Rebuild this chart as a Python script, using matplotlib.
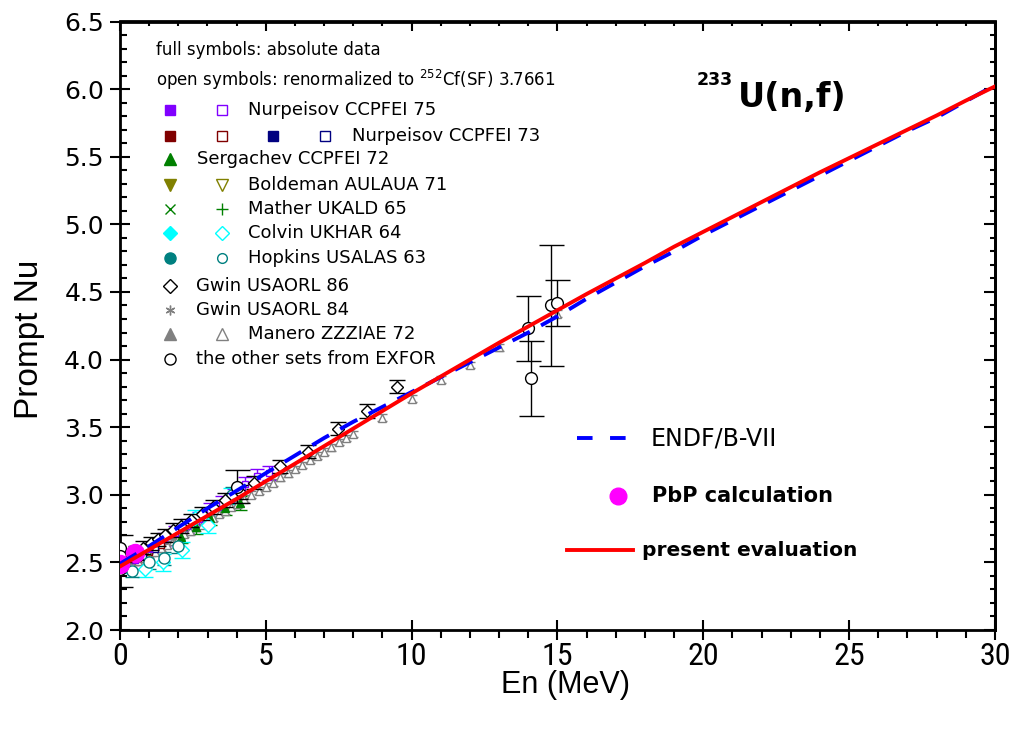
import matplotlib
matplotlib.use("Agg")
import matplotlib.pyplot as plt
from matplotlib.lines import Line2D
from matplotlib.ticker import MultipleLocator

# ---------------- evaluated curves ----------------
energy_grid = [0, 1, 2, 3, 4, 5, 6, 7, 8, 9, 10, 11, 12, 13, 14, 15,
               16, 17, 18, 19, 20, 21, 22, 23, 24, 25, 26, 27, 28, 29, 30]
nu_present = [2.47, 2.595, 2.72, 2.845, 2.97, 3.10, 3.23, 3.36, 3.49, 3.62,
              3.75, 3.875, 4.00, 4.125, 4.245, 4.365, 4.485, 4.60, 4.715,
              4.835, 4.945, 5.055, 5.165, 5.275, 5.385, 5.49, 5.595, 5.70,
              5.805, 5.915, 6.02]
nu_endf = [2.49, 2.62, 2.76, 2.90, 3.03, 3.16, 3.29, 3.42, 3.54, 3.65,
           3.76, 3.87, 3.98, 4.09, 4.20, 4.32, 4.45, 4.57, 4.69, 4.80,
           4.92, 5.03, 5.14, 5.25, 5.36, 5.47, 5.58, 5.69, 5.79, 5.91, 6.03]

pbp_e = [0.0, 0.5]
pbp_nu = [2.49, 2.57]

# ---------------- experimental sets ----------------
manero_e = [0.2, 0.4, 0.6, 0.8, 1.0, 1.2, 1.4, 1.6, 1.8, 2.0, 2.2, 2.4, 2.6,
            2.8, 3.0, 3.2, 3.4, 3.6, 3.8, 4.0, 4.25, 4.5, 4.75, 5.0, 5.25,
            5.5, 5.75, 6.0, 6.25, 6.5, 6.75, 7.0, 7.25, 7.5, 7.75, 8.0,
            9.0, 10.0, 11.0, 12.0, 13.0, 14.0, 15.0]
manero_nu = [2.46, 2.48, 2.51, 2.53, 2.56, 2.58, 2.61, 2.63, 2.66, 2.68,
             2.71, 2.73, 2.76, 2.78, 2.81, 2.83, 2.86, 2.88, 2.91, 2.93,
             2.97, 3.00, 3.03, 3.06, 3.09, 3.13, 3.16, 3.19, 3.22, 3.26,
             3.29, 3.32, 3.35, 3.39, 3.42, 3.45, 3.57, 3.71, 3.85, 3.96,
             4.09, 4.23, 4.34]
manero_err = [0.025] * len(manero_e)

gwin86_e = [0.55, 0.8, 1.05, 1.3, 1.55, 1.8, 2.1, 2.45, 2.8, 3.2, 3.6, 4.1,
            4.6, 5.5, 6.45, 7.47, 8.47, 9.5]
gwin86_nu = [2.57, 2.61, 2.64, 2.67, 2.70, 2.74, 2.77, 2.81, 2.86, 2.91,
             2.96, 3.02, 3.09, 3.21, 3.32, 3.49, 3.62, 3.80]
gwin86_err = [0.05] * len(gwin86_e)

gwin84_e = [0.1, 0.3, 0.5, 0.7, 0.9, 1.2, 1.5, 1.8]
gwin84_nu = [2.47, 2.50, 2.53, 2.55, 2.58, 2.62, 2.65, 2.69]
gwin84_err = [0.03] * len(gwin84_e)

hopkins_e = [0.4, 1.0, 1.5, 2.0, 3.84]
hopkins_nu = [2.44, 2.50, 2.53, 2.62, 3.00]
hopkins_err = [0.05, 0.05, 0.05, 0.05, 0.06]
hopkins_abs_e = [0.08]
hopkins_abs_nu = [2.47]

colvin_e = [0.86, 1.47, 2.12, 2.57, 3.0, 3.8]
colvin_nu = [2.45, 2.50, 2.59, 2.83, 2.78, 2.99]
colvin_err = [0.06, 0.06, 0.06, 0.06, 0.06, 0.06]
colvin_abs_e = [0.05]
colvin_abs_nu = [2.46]

sergachev_e = [2.1, 2.6, 3.1, 3.6, 4.1]
sergachev_nu = [2.69, 2.76, 2.83, 2.90, 2.94]
sergachev_err = [0.05] * len(sergachev_e)

nurp75_e = [1.5, 1.9, 2.3, 2.7, 3.1, 3.5, 3.9, 4.3, 4.7, 5.1]
nurp75_nu = [2.67, 2.72, 2.77, 2.82, 2.89, 2.94, 2.99, 3.08, 3.14, 3.16]
nurp75_err = [0.05] * len(nurp75_e)
nurp75_abs_e = [0.5, 1.0]
nurp75_abs_nu = [2.52, 2.60]

nurp73_red_e = [0.6, 1.0, 1.4]
nurp73_red_nu = [2.53, 2.58, 2.63]
nurp73_navy_e = [0.8, 1.2]
nurp73_navy_nu = [2.55, 2.60]

boldeman_e = [0.15, 0.5, 1.0]
boldeman_nu = [2.48, 2.52, 2.58]

mather_e = [0.04, 0.25]
mather_nu = [2.47, 2.50]

other_e = [0.0, 0.0, 0.0, 4.0, 14.0, 14.1, 14.78, 14.98]
other_nu = [2.61, 2.55, 2.45, 3.06, 4.23, 3.86, 4.40, 4.42]
other_err = [0.09, 0.05, 0.13, 0.12, 0.24, 0.28, 0.45, 0.17]

x_ticks = [0, 5, 10, 15, 20, 25, 30]
x_tick_labels = ["0", "5", "10", "15", "20", "25", "30"]
y_ticks = [2.0, 2.5, 3.0, 3.5, 4.0, 4.5, 5.0, 5.5, 6.0, 6.5]
y_tick_labels = ["2.0", "2.5", "3.0", "3.5", "4.0", "4.5", "5.0", "5.5",
                 "6.0", "6.5"]

# colours
C_NURP75 = "#8000ff"
C_DRED = "#800000"
C_NAVY = "#000080"
C_GREEN = "#008000"
C_OLIVE = "#808000"
C_CYAN = "#00ffff"
C_TEAL = "#008080"
C_GRAY = "#808080"

NARROW = ["Roboto Condensed", "Liberation Sans Narrow", "Liberation Sans"]

W, H = 1015, 729
fig = plt.figure(figsize=(W / 100, H / 100), dpi=100)
ax = fig.add_axes([120 / W, 99 / H, 875 / W, 608.5 / H])


def fx(px):
    return px / W


def fy(py):
    return 1 - py / H


def eb(x, y, err, marker, color, filled=False, ms=6, cap=3.5, z=3):
    ax.errorbar(x, y, yerr=err, fmt="", marker=marker, ls="none", ms=ms,
                mec=color, mfc=color if filled else "white", mew=1.0,
                ecolor=color, elinewidth=1.0, capsize=cap, capthick=1.0,
                zorder=z)


# experimental points
eb(manero_e, manero_nu, manero_err, "^", C_GRAY, ms=6, cap=3.5, z=3)
eb(gwin84_e, gwin84_nu, gwin84_err, (6, 2, 0), C_GRAY, ms=6, cap=3, z=3)
eb(nurp73_red_e, nurp73_red_nu, [0.04] * 3, "s", C_DRED, ms=5, cap=3, z=3)
eb(nurp73_navy_e, nurp73_navy_nu, [0.04] * 2, "s", C_NAVY, ms=5, cap=3, z=3)
eb(boldeman_e, boldeman_nu, [0.04] * 3, "v", C_OLIVE, ms=6, cap=3, z=3)
eb(mather_e, mather_nu, [0.04] * 2, "+", C_GREEN, ms=6, cap=3, z=3)
eb(nurp75_e, nurp75_nu, nurp75_err, "s", C_NURP75, ms=5, cap=5, z=3)
eb(nurp75_abs_e, nurp75_abs_nu, [0.04] * 2, "s", C_NURP75, filled=True,
   ms=5, cap=4, z=3)
eb(sergachev_e, sergachev_nu, sergachev_err, "^", C_GREEN, filled=True,
   ms=6, cap=5, z=3)
eb(colvin_e, colvin_nu, colvin_err, "D", C_CYAN, ms=7, cap=6, z=3)
eb(colvin_abs_e, colvin_abs_nu, [0.04], "D", C_CYAN, filled=True, ms=6,
   cap=4, z=3)
eb(hopkins_e, hopkins_nu, hopkins_err, "o", C_TEAL, ms=8, cap=5, z=3)
eb(hopkins_abs_e, hopkins_abs_nu, [0.04], "o", C_TEAL, filled=True, ms=7,
   cap=4, z=3)
eb(gwin86_e, gwin86_nu, gwin86_err, "D", "black", ms=6.5, cap=5.5, z=4)
eb(other_e, other_nu, other_err, "o", "black", ms=8.5, cap=9, z=4)

# evaluations
ax.plot(pbp_e, pbp_nu, "o", ms=13, color="#ff00ff", zorder=5)
ax.plot(energy_grid, nu_endf, color="#0000ff", lw=2.8,
        dashes=(5, 3.3), zorder=6)
ax.plot(energy_grid, nu_present, color="#ff0000", lw=2.8, zorder=7)

# axes and ticks
ax.set_xlim(0, 30)
ax.set_ylim(2.0, 6.5)
ax.set_xticks(x_ticks)
ax.set_xticklabels(x_tick_labels)
ax.set_yticks(y_ticks)
ax.set_yticklabels(y_tick_labels)
ax.xaxis.set_minor_locator(MultipleLocator(1))
ax.yaxis.set_minor_locator(MultipleLocator(0.1))
for s in ax.spines.values():
    s.set_linewidth(2.0)
ax.tick_params(axis="y", which="major", direction="inout", length=15,
               width=1.5, labelsize=18, pad=4, right=False,
               labelfontfamily="DejaVu Sans")
ax.tick_params(axis="y", which="minor", direction="in", length=5,
               width=1.5, right=False)
ax.tick_params(axis="x", which="major", direction="inout", length=15,
               width=1.5, labelsize=23, pad=1, top=False)
for lab in ax.get_xticklabels():
    lab.set_fontfamily(NARROW)
ax.tick_params(axis="x", which="minor", direction="out", length=6,
               width=1.5, top=False)

sec_y = ax.secondary_yaxis("right")
sec_y.set_yticks(y_ticks)
sec_y.yaxis.set_minor_locator(MultipleLocator(0.1))
sec_y.tick_params(which="major", direction="in", length=8, width=1.5,
                  labelright=False)
sec_y.tick_params(which="minor", direction="in", length=3.6, width=1.5)
sec_y.spines["right"].set_linewidth(2.0)

sec_x = ax.secondary_xaxis("top")
sec_x.set_xticks(x_ticks)
sec_x.xaxis.set_minor_locator(MultipleLocator(1))
sec_x.tick_params(which="major", direction="in", length=7, width=1.5,
                  labeltop=False)
sec_x.tick_params(which="minor", direction="in", length=3.6, width=1.5)
sec_x.spines["top"].set_linewidth(2.0)

ax.set_xlabel("En (MeV)", fontsize=22, family="Liberation Sans")
ax.xaxis.set_label_coords((566 - 120) / 875, -(670 - 630) / 608.5)
ax.set_ylabel("Prompt Nu", fontsize=24, family="Liberation Sans")
ax.yaxis.set_label_coords((45 - 120) / 875, (729 - 339 - 99) / 608.5)

# reaction label
fig.text(fx(697), fy(85), "233", fontsize=12.5, fontweight="bold",
         va="baseline", ha="left")
fig.text(fx(738), fy(107), "U(n,f)", fontsize=24, fontweight="bold",
         va="baseline", ha="left")

# data legend
fig.text(fx(156), fy(50), "full symbols: absolute data", fontsize=12,
         va="center", ha="left")
fig.text(fx(156), fy(80),
         r"open symbols: renormalized to $^{252}$Cf(SF) 3.7661",
         fontsize=12, va="center", ha="left")

c1, c2, c3, c4 = 170, 222, 273, 325
legend_rows = [
    (110, [(c1, "s", C_NURP75, True, 7), (c2, "s", C_NURP75, False, 7)],
     248, "Nurpeisov CCPFEI 75"),
    (136, [(c1, "s", C_DRED, True, 7), (c2, "s", C_DRED, False, 7),
           (c3, "s", C_NAVY, True, 7), (c4, "s", C_NAVY, False, 7)],
     352, "Nurpeisov CCPFEI 73"),
    (159, [(c1, "^", C_GREEN, True, 8)], 197, "Sergachev CCPFEI 72"),
    (185, [(c1, "v", C_OLIVE, True, 8), (c2, "v", C_OLIVE, False, 8)],
     248, "Boldeman AULAUA 71"),
    (209, [(c1, "x", C_GREEN, True, 7), (c2, "+", C_GREEN, True, 8)],
     248, "Mather UKALD 65"),
    (233, [(c1, "D", C_CYAN, True, 7), (c2, "D", C_CYAN, False, 7)],
     248, "Colvin UKHAR 64"),
    (258, [(c1, "o", C_TEAL, True, 8), (c2, "o", C_TEAL, False, 7)],
     248, "Hopkins USALAS 63"),
    (286, [(c1, "D", "black", False, 7)], 196, "Gwin USAORL 86"),
    (310, [(c1, (6, 2, 0), C_GRAY, True, 7)], 196, "Gwin USAORL 84"),
    (334, [(c1, "^", C_GRAY, True, 8), (c2, "^", C_GRAY, False, 8)],
     248, "Manero ZZZIAE 72"),
    (359, [(c1, "o", "black", False, 8)], 196, "the other sets from EXFOR"),
]
for row_y, marks, tx, label in legend_rows:
    for mx, mk, col, filled, ms in marks:
        fig.add_artist(Line2D([fx(mx)], [fy(row_y)], marker=mk, ms=ms,
                              mec=col, mfc=col if filled else "white",
                              mew=1.0, ls="none",
                              transform=fig.transFigure))
    fig.text(fx(tx), fy(row_y), label, fontsize=13, va="center", ha="left")

# evaluation legend
fig.add_artist(Line2D([fx(577), fx(642)], [fy(438), fy(438)],
                      color="#0000ff", lw=2.8, dashes=(4, 4.5),
                      transform=fig.transFigure))
fig.text(fx(651), fy(438), "ENDF/B-VII", fontsize=17, va="center",
         ha="left")
fig.add_artist(Line2D([fx(618)], [fy(496)], marker="o", ms=12,
                      color="#ff00ff", ls="none",
                      transform=fig.transFigure))
fig.text(fx(652), fy(496), "PbP calculation", fontsize=15,
         fontweight="bold", va="center", ha="left")
fig.add_artist(Line2D([fx(567), fx(633)], [fy(550), fy(550)],
                      color="#ff0000", lw=2.8, transform=fig.transFigure))
fig.text(fx(642), fy(550), "present evaluation", fontsize=14.5,
         fontweight="bold", va="center", ha="left")

fig.savefig("out.png", dpi=100, facecolor="white")
